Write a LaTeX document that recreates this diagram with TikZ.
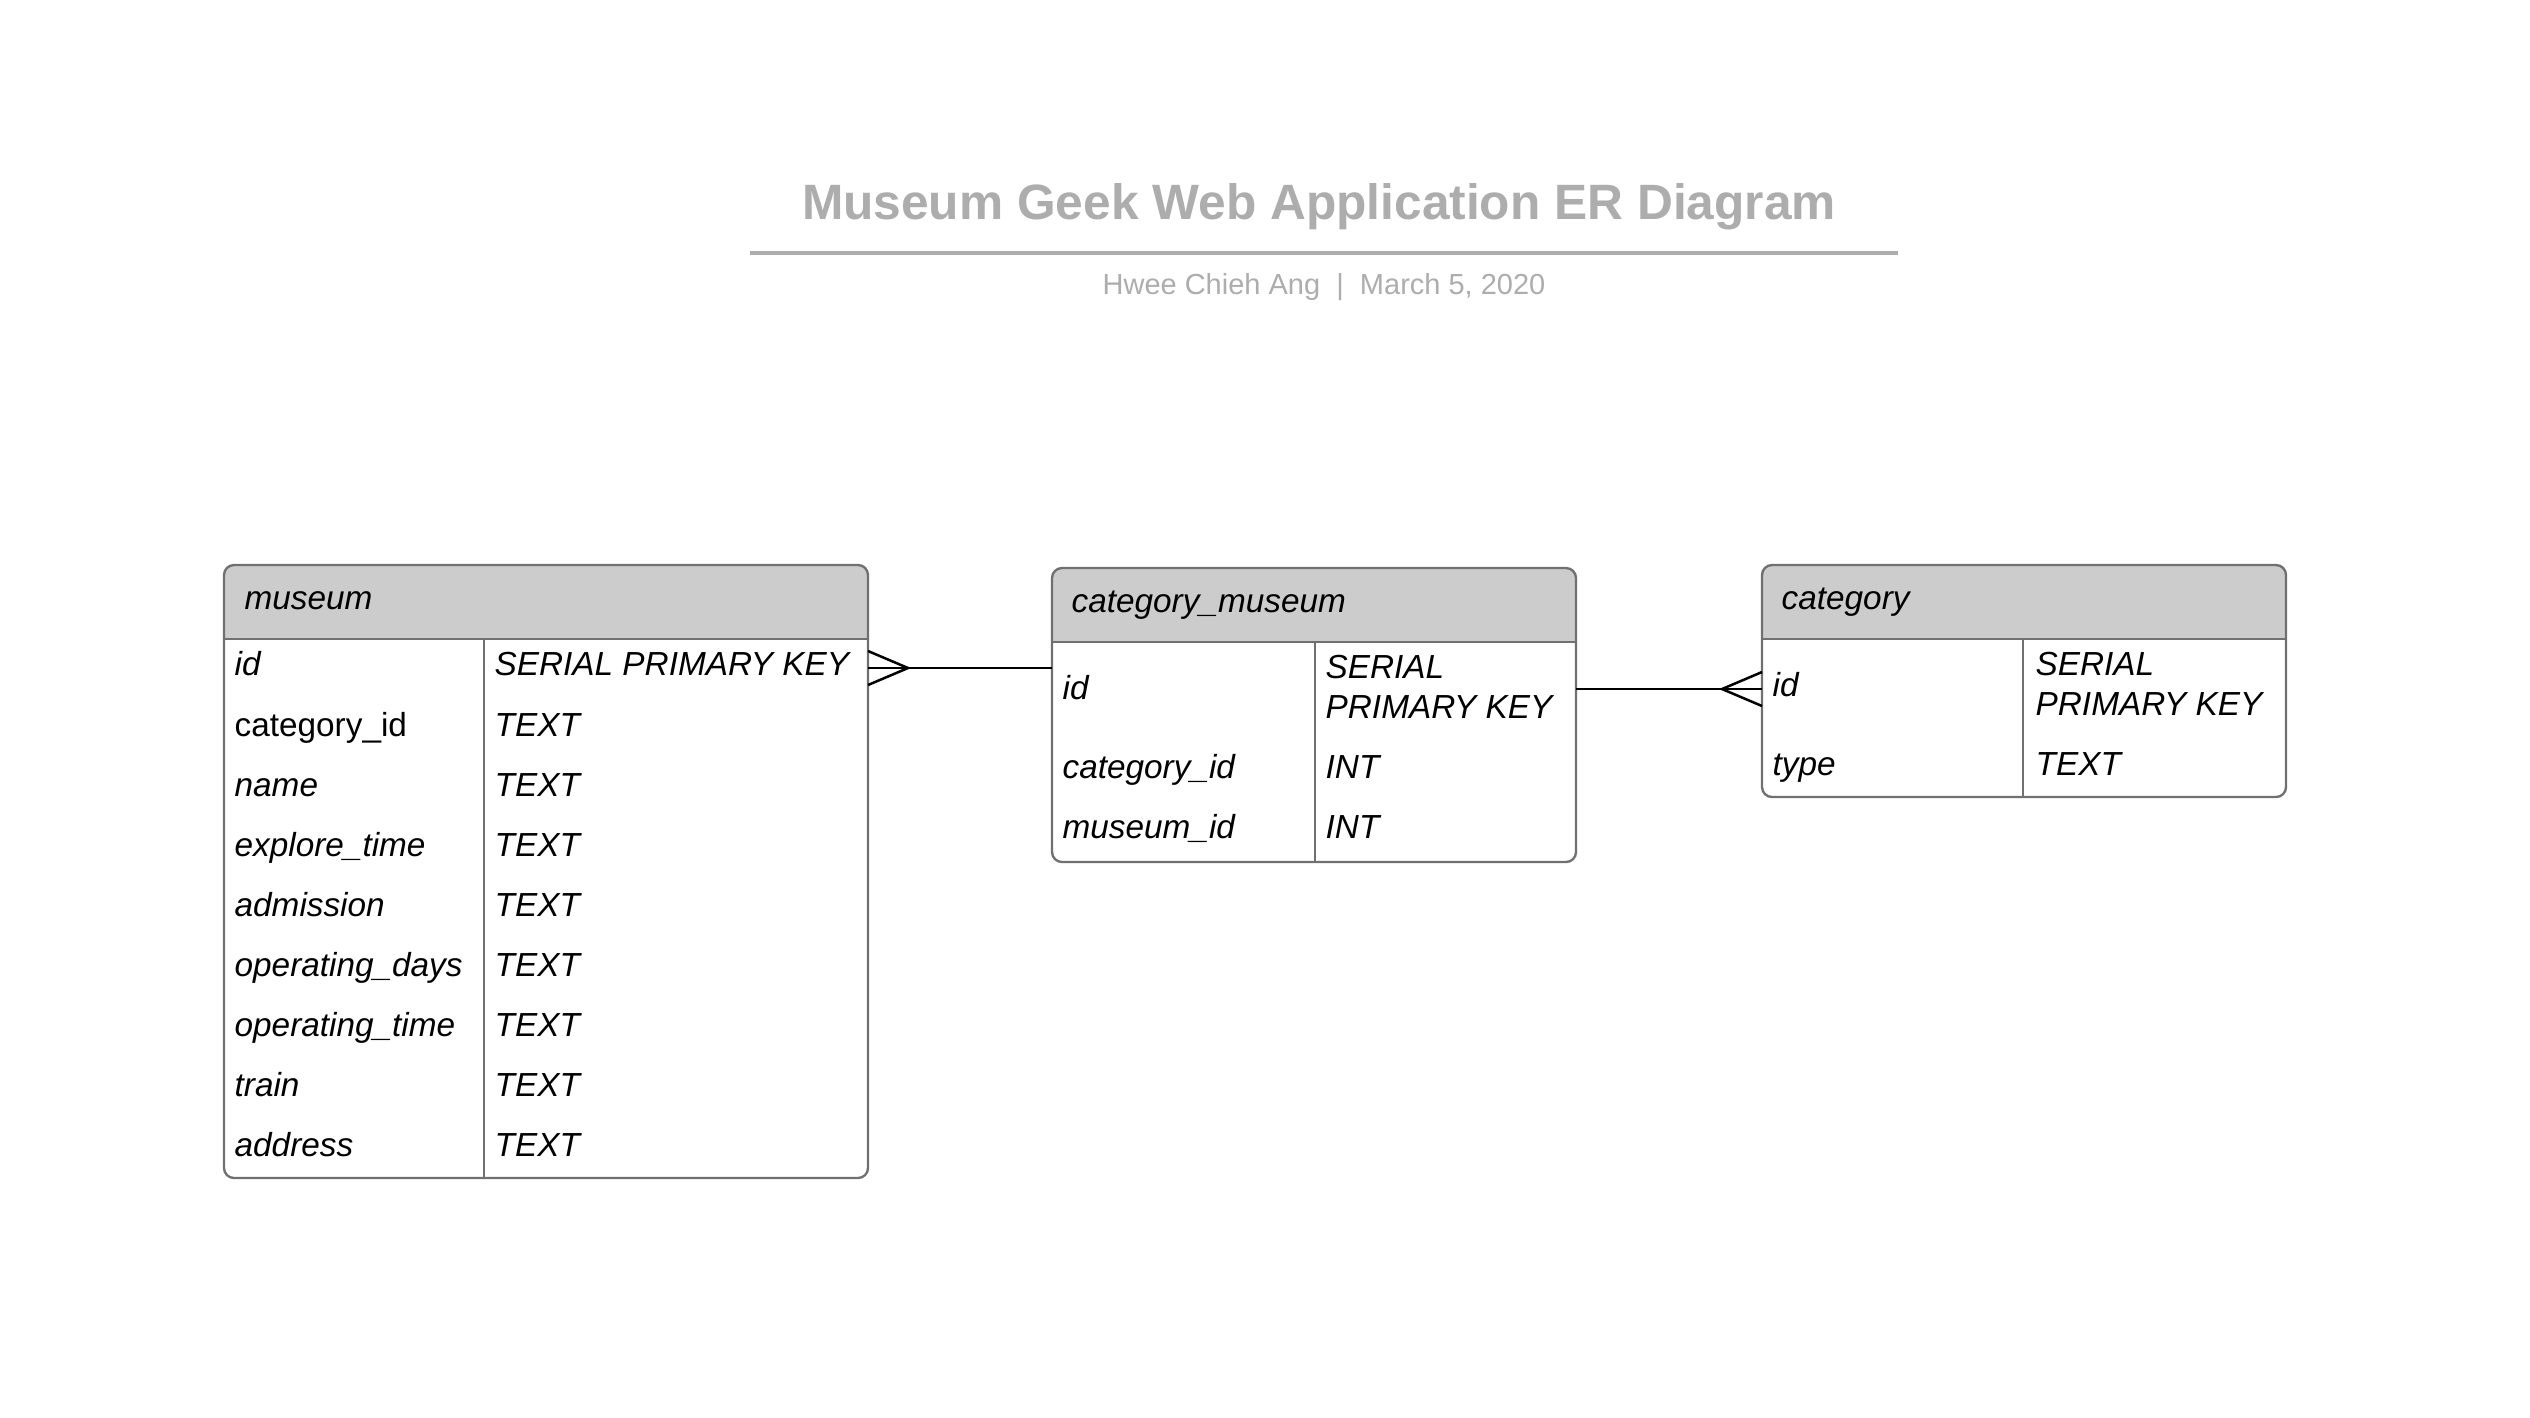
\documentclass[tikz,border=0pt]{standalone}
\usepackage{fontspec}
\setmainfont{Liberation Sans}
\usetikzlibrary{positioning,math}
\definecolor{titlegray}{RGB}{173,173,173}
\definecolor{linegray}{RGB}{112,112,112}
\definecolor{headgray}{RGB}{204,204,204}

\tikzset{
  field/.style={anchor=west, inner sep=0pt, font=\fontsize{10}{12}\selectfont\itshape,
    text height=7.3pt, text depth=2pt, yshift=-1pt},
  plainfield/.style={field, font=\fontsize{10}{12}\selectfont},
  twoline/.style={anchor=west, inner sep=0pt, align=left,
    font=\fontsize{10}{12}\selectfont\itshape},
  tablebox/.style={draw=linegray, line width=0.7pt},
  rel/.style={black, line width=0.75pt},
}

\begin{document}
\begin{tikzpicture}[x=0.3pt, y=-0.3pt]
\tikzmath{
\mL=224; \mR=868; \mD=484;
\cL=1052; \cR=1576; \cD=1315;
\kL=1762; \kR=2286; \kD=2023;
\tTop=565; \tHead=639; \cTop=568; \cHead=642;
\foot=40;
\toe=17;
}
\useasboundingbox[fill=white] (0,0) rectangle (2530,1417);

%title
\node[font=\fontsize{14.9}{18}\selectfont\bfseries, text=titlegray] (title) at (1319,207) {Museum Geek Web Application ER Diagram};
\draw[titlegray, line width=1.3pt] (750,253) -- (1898,253);
\node[font=\fontsize{8.7}{10}\selectfont, text=titlegray] (byline) at (1324,287) {Hwee Chieh Ang\ \ |\ \ March 5, 2020};

%museum table
\begin{scope}
\clip[rounded corners=3pt] (\mL,\tTop) rectangle (\mR,1178);
\fill[headgray] (\mL,\tTop) rectangle (\mR,\tHead);
\end{scope}
\draw[tablebox, rounded corners=3pt] (\mL,\tTop) rectangle (\mR,1178);
\draw[tablebox] (\mL,\tHead) -- (\mR,\tHead);
\draw[tablebox] (\mD,\tHead) -- (\mD,1178);
\node[field] (mu-head) at (244,597) {museum};
\node[field] (mu-id) at (234,663) {id};
\node[field] (mu-id-t) at (494,663) {SERIAL PRIMARY KEY};
\node[plainfield] (mu-cat) at (234,724) {category\_id};
\node[field] (mu-cat-t) at (494,724) {TEXT};
\node[field] (mu-name) at (234,784) {name};
\node[field] (mu-name-t) at (494,784) {TEXT};
\node[field] (mu-expl) at (234,844) {explore\_time};
\node[field] (mu-expl-t) at (494,844) {TEXT};
\node[field] (mu-adm) at (234,904) {admission};
\node[field] (mu-adm-t) at (494,904) {TEXT};
\node[field] (mu-days) at (234,964) {operating\_days};
\node[field] (mu-days-t) at (494,964) {TEXT};
\node[field] (mu-time) at (234,1024) {operating\_time};
\node[field] (mu-time-t) at (494,1024) {TEXT};
\node[field] (mu-train) at (234,1084) {train};
\node[field] (mu-train-t) at (494,1084) {TEXT};
\node[field] (mu-addr) at (234,1144) {address};
\node[field] (mu-addr-t) at (494,1144) {TEXT};

%category_museum table
\begin{scope}
\clip[rounded corners=3pt] (\cL,\cTop) rectangle (\cR,862);
\fill[headgray] (\cL,\cTop) rectangle (\cR,\cHead);
\end{scope}
\draw[tablebox, rounded corners=3pt] (\cL,\cTop) rectangle (\cR,862);
\draw[tablebox] (\cL,\cHead) -- (\cR,\cHead);
\draw[tablebox] (\cD,\cHead) -- (\cD,862);
\node[field] (cm-head) at (1071,600) {category\_museum};
\node[field] (cm-id) at (1062,687) {id};
\node[twoline] (cm-id-t) at (1325,687) {SERIAL\\PRIMARY KEY};
\node[field] (cm-cat) at (1062,766) {category\_id};
\node[field] (cm-cat-t) at (1325,766) {INT};
\node[field] (cm-mus) at (1062,826) {museum\_id};
\node[field] (cm-mus-t) at (1325,826) {INT};

%category table
\begin{scope}
\clip[rounded corners=3pt] (\kL,\tTop) rectangle (\kR,797);
\fill[headgray] (\kL,\tTop) rectangle (\kR,\tHead);
\end{scope}
\draw[tablebox, rounded corners=3pt] (\kL,\tTop) rectangle (\kR,797);
\draw[tablebox] (\kL,\tHead) -- (\kR,\tHead);
\draw[tablebox] (\kD,\tHead) -- (\kD,797);
\node[field] (ca-head) at (1781,597) {category};
\node[field] (ca-id) at (1772,684) {id};
\node[twoline] (ca-id-t) at (2035,684) {SERIAL\\PRIMARY KEY};
\node[field] (ca-type) at (1772,763) {type};
\node[field] (ca-type-t) at (2035,763) {TEXT};

%relations
\coordinate (mu-out) at (\mR,668);
\coordinate (cm-in) at (\cL,668);
\coordinate (cm-out) at (\cR,689);
\coordinate (ca-in) at (\kL,689);
\draw[rel] (mu-out) -- (cm-in);
\draw[rel] (mu-out) ++(0,-\toe) -- ++(\foot,\toe) -- ++(-\foot,\toe);
\draw[rel] (cm-out) -- (ca-in);
\draw[rel] (ca-in) ++(0,-\toe) -- ++(-\foot,\toe) -- ++(\foot,\toe);
\end{tikzpicture}
\end{document}
